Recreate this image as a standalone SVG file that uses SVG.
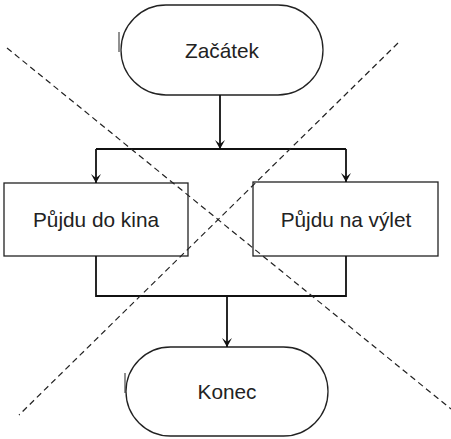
<svg xmlns="http://www.w3.org/2000/svg" width="451" height="439" viewBox="0 0 451 439">
  <style>
    .shape { fill: #fff; stroke: #222; stroke-width: 1.3; }
    .label { font-family: "Liberation Sans", Arial, sans-serif; font-size: 20.8px; fill: #222; text-anchor: middle; }
    .wire { fill: none; stroke: #111; stroke-width: 1.8; }
    .cross { fill: none; stroke: #222; stroke-width: 1.2; stroke-dasharray: 6 4; }
    .tick { stroke: #222; stroke-width: 1; }
  </style>
  <defs>
    <marker id="arrow" viewBox="-10 -6 12 12" refX="0" refY="0" markerWidth="12" markerHeight="12" markerUnits="userSpaceOnUse" orient="auto">
      <path d="M0,0 L-9,-5 L-5,0 L-9,5 Z" fill="#111"/>
    </marker>
  </defs>
  <rect width="451" height="439" fill="#fff"/>

  <g id="start">
    <rect class="shape" x="121" y="5" width="202" height="90" rx="45" ry="45"/>
    <line class="tick" x1="119" y1="32" x2="119" y2="52"/>
    <text class="label" x="222" y="58">Začátek</text>
  </g>

  <g id="kino">
    <rect class="shape" x="4" y="183" width="184" height="73"/>
    <text class="label" x="96" y="227">Půjdu do kina</text>
  </g>

  <g id="vylet">
    <rect class="shape" x="253" y="182" width="185" height="74"/>
    <text class="label" x="346" y="227">Půjdu na výlet</text>
  </g>

  <g id="end">
    <rect class="shape" x="126" y="347" width="202" height="89" rx="44.5" ry="44.5"/>
    <line class="tick" x1="125" y1="373" x2="125" y2="393"/>
    <text class="label" x="227" y="399">Konec</text>
  </g>

  <g id="connectors">
    <line class="wire" x1="220" y1="95" x2="220" y2="149" marker-end="url(#arrow)"/>
    <path class="wire" d="M96,149 H346"/>
    <line class="wire" x1="96" y1="149" x2="96" y2="183" marker-end="url(#arrow)"/>
    <line class="wire" x1="346" y1="149" x2="346" y2="182" marker-end="url(#arrow)"/>
    <path class="wire" d="M96,256 V296 H346 V256"/>
    <line class="wire" x1="227" y1="296" x2="227" y2="347" marker-end="url(#arrow)"/>
  </g>

  <g id="crossout">
    <line class="cross" x1="7" y1="48" x2="451" y2="409"/>
    <line class="cross" x1="398" y1="43" x2="19" y2="415"/>
  </g>
</svg>
